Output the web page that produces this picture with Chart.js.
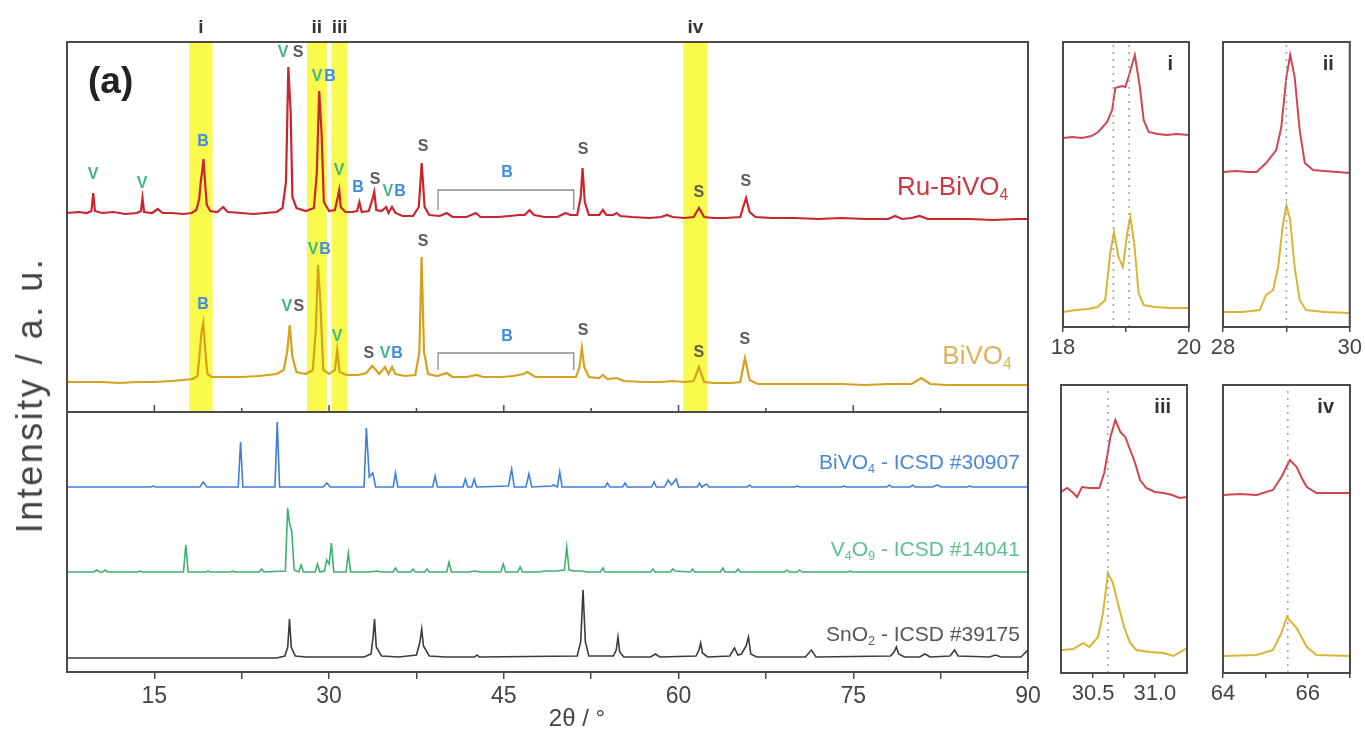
<!DOCTYPE html>
<html lang="en">
<head>
<meta charset="UTF-8" />
<title>XRD - Ru-BiVO4 / BiVO4</title>
<script src="https://cdn.jsdelivr.net/npm/chart.js"></script>
<style>
  body { margin: 0; background: #fff; font-family: 'Liberation Sans', Arial, sans-serif; }
  #fig { position: relative; width: 1365px; height: 736px; overflow: hidden; }
  .box { position: absolute; }
  .txt { position: absolute; color: #444; white-space: nowrap; }
  #ylab { left: 30px; top: 395px; font-size: 36px; letter-spacing: 2.5px; transform: translate(-50%, -50%) rotate(-90deg); }
  #xlab { left: 577px; top: 718px; font-size: 24px; transform: translate(-50%, -50%); }
  #tag { left: 88px; top: 60px; font-size: 37px; font-weight: bold; color: #222; }
</style>
</head>
<body>
<div id="fig">
  <div class="box" style="left:0;top:0"><canvas id="upper" width="1045" height="414"></canvas></div>
  <div class="box" style="left:0;top:410px"><canvas id="lower" width="1045" height="326"></canvas></div>
  <div class="box" style="left:1045px;top:0"><canvas id="insI" width="160" height="370"></canvas></div>
  <div class="box" style="left:1205px;top:0"><canvas id="insII" width="160" height="370"></canvas></div>
  <div class="box" style="left:1045px;top:370px"><canvas id="insIII" width="160" height="366"></canvas></div>
  <div class="box" style="left:1205px;top:370px"><canvas id="insIV" width="160" height="366"></canvas></div>
  <div class="txt" id="ylab">Intensity / a. u.</div>
  <div class="txt" id="xlab">2θ / °</div>
  <div class="txt" id="tag">(a)</div>
</div>

<script>
  // ---- main panel data: [2theta, intensity (a.u., offset traces)] ----
  const RU_BIVO4 = [[7.5,199],[8.5,200],[9.2,199],[9.6,201],[9.75,219],[9.9,201],[10.5,199],[11.5,200],[12.5,198],[13.5,199],[13.85,201],[13.98,214],[14.12,200],[14.8,199],[15.3,203],[15.7,199],[16.5,199],[17.5,198],[18.2,199],[18.6,202],[18.85,213],[19.0,232],[19.1,240],[19.22,253],[19.35,230],[19.5,207],[19.8,201],[20.4,200],[20.9,205],[21.3,200],[22.5,199],[23.5,198],[24.5,199],[25.5,200],[26.0,204],[26.3,230],[26.5,345],[26.7,300],[26.85,215],[27.2,204],[28.0,201],[28.7,204],[28.95,240],[29.15,321],[29.35,280],[29.55,210],[30.0,201],[30.5,202],[30.75,215],[30.87,222],[31.0,205],[31.4,200],[32.0,200],[32.4,201],[32.6,210],[32.8,200],[33.4,201],[33.75,214],[33.88,220],[34.05,202],[34.5,201],[34.9,205],[35.1,199],[35.4,205],[35.7,199],[36.3,196],[37.2,196],[37.7,205],[37.95,249],[38.2,205],[38.6,197],[39.5,196],[40.1,199],[40.6,195],[41.8,195],[42.6,199],[43.0,195],[44.5,195],[45.5,196],[46.3,197],[46.8,197],[47.2,202],[47.6,197],[48.5,195],[49.6,195],[50.3,199],[50.7,197],[51.3,197],[51.6,215],[51.76,244],[51.95,210],[52.3,197],[53.2,197],[53.5,202],[53.8,197],[54.4,197],[54.7,199],[55.0,196],[56.0,195],[57.5,194],[58.5,195],[59.0,197],[59.5,195],[60.5,194],[61.3,195],[61.75,204],[62.2,195],[63,194],[64,194],[65.3,195],[65.55,205],[65.8,214],[66.1,200],[66.6,195],[68,194],[70,194],[72,193],[74,194],[76,193],[78.0,193],[78.6,196],[79.2,193],[80.0,194],[80.7,196],[81.4,193],[83,193],[85,193],[87,192],[89,193],[90,193]];
  const BIVO4 = [[7.5,30],[9,30],[10.5,30],[12,29],[13.5,30],[15,30],[16.5,31],[17.5,32],[18.3,33],[18.7,36],[18.9,60],[19.05,80],[19.2,89],[19.35,65],[19.55,38],[19.9,35],[21,35],[22.5,35],[24,36],[25.5,38],[26.1,42],[26.4,60],[26.62,87],[26.85,55],[27.2,40],[28.0,38],[28.6,42],[28.85,80],[29.05,147],[29.25,110],[29.5,42],[30.0,38],[30.5,42],[30.7,62],[30.9,40],[31.5,37],[32.5,37],[33.2,39],[33.7,46],[33.95,43],[34.3,38],[34.8,45],[35.1,38],[35.4,45],[35.7,38],[36.5,36],[37.4,37],[37.75,60],[37.94,155],[38.15,60],[38.5,38],[39.3,36],[40.1,39],[40.6,35],[41.8,35],[42.7,37],[43.2,35],[44.8,35],[45.8,36],[46.7,38],[47.0,40],[47.3,38],[47.7,35],[48.8,35],[49.9,35],[50.4,35],[51.2,35],[51.5,45],[51.7,64],[51.9,45],[52.3,35],[53.2,34],[53.5,37],[53.9,33],[54.7,34],[55.3,31],[57,30],[58.5,30],[59.5,31],[60.5,30],[61.3,31],[61.75,45],[62.2,30],[63,29],[64.5,29],[65.3,30],[65.7,54],[66.1,32],[66.8,28],[68,28],[70,28],[72,28],[74,28],[76,27],[78,28],[80.0,28],[80.85,34],[81.6,28],[83,27],[85,27],[87,27],[89,27],[90,27]];

  const REF_BIVO4 = [[7.5,185],[14.7,185],[14.9,186],[15.1,185],[18.9,185],[19.2,190],[19.5,185],[22.2,185],[22.4,230],[22.6,185],[25.35,185],[25.55,250],[25.75,185],[29.5,185],[29.8,189],[30.1,185],[33.0,185],[33.2,244],[33.45,195],[33.75,199],[34.0,185],[35.5,185],[35.7,199],[35.9,185],[38.9,185],[39.1,196],[39.3,185],[41.5,185],[41.7,193],[41.9,185],[42.25,185],[42.46,193],[42.65,185],[45.4,186],[45.67,203],[45.9,185],[46.9,185],[47.15,198],[47.4,185],[49.1,186],[49.3,187],[49.6,185],[49.8,200],[50.0,185],[53.7,185],[53.9,189],[54.1,185],[55.2,185],[55.4,189],[55.6,185],[57.7,185],[57.9,190],[58.1,185],[58.8,185],[59.1,192],[59.4,187],[59.8,193],[60.0,185],[61.6,185],[61.8,189],[62.0,185],[62.4,188],[62.6,185],[65.9,185],[66.1,187],[66.3,185],[70,185],[70.2,186],[70.4,185],[74,185],[74.2,186],[74.4,185],[77.9,185],[78.1,187],[78.3,185],[79.9,185],[80.1,187],[80.3,185],[81.8,185],[82.2,187],[82.6,185],[84.8,185],[85.0,186],[85.2,185],[90,185]];
  const REF_V4O9 = [[7.5,100],[9.8,100],[10.05,102],[10.3,100],[10.55,100],[10.76,102],[11.0,100],[13.6,100],[13.8,101],[14.0,100],[17.5,100],[17.7,127],[17.9,100],[19.4,100],[19.6,101],[19.8,100],[21.5,100],[21.7,101],[21.9,100],[24.0,100],[24.2,103],[24.4,100],[26.25,101],[26.44,164],[26.6,149],[26.8,140],[27.0,102],[27.4,100],[27.6,107],[27.8,100],[28.8,100],[29.0,108],[29.2,100],[29.6,101],[29.8,112],[30.0,108],[30.2,129],[30.4,100],[31.45,100],[31.65,119],[31.85,100],[33.5,100],[34.1,101],[34.5,100],[35.5,100],[35.7,104],[35.9,100],[37.0,100],[37.2,103],[37.4,100],[38.2,100],[38.4,103],[38.6,100],[40.1,100],[40.3,110],[40.5,100],[42,100],[42.5,101],[43,100],[44.75,100],[44.95,108],[45.15,100],[46.2,100],[46.4,105],[46.6,100],[48.0,100],[48.5,101],[49.5,101],[50.2,102],[50.4,125],[50.6,102],[51.0,101],[51.6,101],[52.2,100],[53.3,100],[53.5,104],[53.7,100],[57.6,100],[57.8,103],[58.0,100],[59.3,100],[59.5,103],[59.7,101],[61.0,100],[61.2,103],[61.4,100],[63.6,100],[63.8,104],[64.0,100],[64.9,100],[65.1,103],[65.3,100],[69.1,100],[69.3,102],[69.5,100],[70.2,100],[70.4,102],[70.6,100],[74.5,100],[74.7,101],[74.9,100],[90,100]];
  const REF_SNO2 = [[7.5,14],[25.5,14],[26.2,16],[26.45,25],[26.6,53],[26.75,25],[27.1,16],[28,15],[33.0,15],[33.6,18],[33.78,35],[33.9,53],[34.05,25],[34.5,16],[36,15],[37.5,17],[37.8,30],[37.95,43],[38.1,26],[38.6,16],[40,15],[42.5,15],[42.7,17],[42.9,15],[51.3,16],[51.6,30],[51.8,82],[52.0,30],[52.3,16],[54.4,16],[54.65,22],[54.8,35],[54.95,20],[55.3,15],[57.6,15],[58.0,18],[58.4,15],[61.5,16],[61.75,22],[61.9,29],[62.05,19],[62.5,15],[64.4,16],[64.8,24],[65.1,17],[65.4,18],[65.8,26],[66.0,35],[66.2,18],[66.7,15],[70.9,15],[71.4,22],[71.8,15],[78.2,16],[78.5,20],[78.7,25],[78.9,18],[79.4,15],[80.7,15],[81.15,18],[81.6,15],[83.3,16],[83.7,22],[84.0,16],[86.7,15],[87.2,17],[87.7,15],[89.4,15],[89.9,21],[90,19]];

  // bracket over the BiVO4 region 39-51 deg
  const BRACKET_RU = [[39.35,202],[39.35,222],[51.0,222],[51.0,202]];
  const BRACKET_BI = [[39.35,42],[39.35,59],[51.0,59],[51.0,42]];

  // highlighted 2theta windows
  const BANDS = [[18.0,20.0,'i'],[28.1,29.8,'ii'],[30.2,31.6,'iii'],[60.4,62.5,'iv']];

  // phase letters: [text, 2theta, intensity, phase]
  const PEAK_TAGS = [
    ['V',9.73,237,'V'],['V',13.94,228,'V'],['B',19.17,270,'B'],
    ['V',26.04,359,'V'],['S',27.33,359,'S'],['V',28.96,335,'V'],['B',30.08,335,'B'],
    ['V',30.85,241,'V'],['B',32.48,224,'B'],['S',33.94,232,'S'],['V',35.05,220,'V'],['B',36.08,220,'B'],
    ['S',38.06,265,'S'],['B',45.27,239,'B'],['S',51.8,262,'S'],['S',61.75,219,'S'],['S',65.78,230,'S'],
    ['B',19.17,107,'B'],['V',26.38,105,'V'],['S',27.41,105,'S'],['V',28.62,162,'V'],['B',29.65,162,'B'],
    ['V',30.68,75,'V'],['S',33.42,58,'S'],['V',34.8,58,'V'],['B',35.83,58,'B'],
    ['S',38.06,170,'S'],['B',45.27,75,'B'],['S',51.8,81,'S'],['S',61.75,59,'S'],['S',65.7,72,'S']
  ];
  const TAG_COLORS = { V: '#42b488', S: '#5b5b5b', B: '#3d8de0' };

  const X_TICKS_MAIN = [15, 22.5, 30, 37.5, 45, 52.5, 60, 67.5, 75, 82.5, 90];
  const X_LABELS_MAIN = ['15', '', '30', '', '45', '', '60', '', '75', '', '90'];

  // ---- insets ----
  const RU_I = [[18.0,189],[18.15,190],[18.3,189],[18.45,191],[18.56,195],[18.7,205],[18.78,217],[18.83,239],[18.88,240],[18.95,241],[18.99,240],[19.04,250],[19.14,272],[19.22,240],[19.28,207],[19.36,195],[19.5,193],[19.65,192],[19.8,193],[20.0,192]];
  const BI_I = [[18.0,15],[18.2,17],[18.4,18],[18.55,20],[18.67,27],[18.75,74],[18.81,95],[18.88,70],[18.95,60],[19.02,94],[19.07,110],[19.13,84],[19.2,34],[19.28,22],[19.45,20],[19.7,19],[20.0,19]];
  const RU_II = [[28.0,155],[28.2,156],[28.4,155],[28.53,155],[28.68,164],[28.84,177],[28.92,200],[29.0,250],[29.06,272],[29.13,250],[29.21,197],[29.29,164],[29.42,157],[29.6,156],[29.8,155],[30.0,154]];
  const BI_II = [[28.0,15],[28.3,15],[28.58,17],[28.68,32],[28.79,37],[28.87,60],[28.94,100],[29.0,122],[29.06,107],[29.13,60],[29.21,27],[29.31,17],[29.6,15],[30.0,14]];
  const RU_III = [[30.24,181],[30.29,185],[30.34,180],[30.37,176],[30.41,186],[30.47,185],[30.55,185],[30.59,200],[30.64,236],[30.68,253],[30.72,241],[30.76,236],[30.8,223],[30.84,210],[30.88,193],[30.93,185],[31.0,181],[31.07,180],[31.14,178],[31.2,175],[31.26,176]];
  const BI_III = [[30.24,23],[30.34,24],[30.42,30],[30.47,26],[30.54,36],[30.58,60],[30.62,100],[30.66,90],[30.7,70],[30.75,46],[30.8,30],[30.85,23],[30.96,21],[31.07,20],[31.15,17],[31.26,25]];
  const RU_IV = [[64.0,178],[64.4,179],[64.79,178],[65.18,183],[65.38,196],[65.58,213],[65.74,206],[65.86,195],[65.98,186],[66.21,180],[66.6,180],[67.0,180]];
  const BI_IV = [[64.0,17],[64.79,18],[65.18,23],[65.38,40],[65.51,56],[65.74,45],[65.98,26],[66.21,18],[67.0,17]];

  const INSETS = [
    { id: 'insI',   tag: 'i',   xmin: 18,    xmax: 20,    ymax: 285, ru: RU_I,   bi: BI_I,   marks: [18.8, 19.05],
      ticks: [18, 19, 20], labels: ['18', '', '20'], pad: { left: 18, right: 16, top: 42 } },
    { id: 'insII',  tag: 'ii',  xmin: 28,    xmax: 30,    ymax: 285, ru: RU_II,  bi: BI_II,  marks: [29.0],
      ticks: [28, 29, 30], labels: ['28', '', '30'], pad: { left: 18, right: 15, top: 42 } },
    { id: 'insIII', tag: 'iii', xmin: 30.24, xmax: 31.26, ymax: 288, ru: RU_III, bi: BI_III, marks: [30.62],
      ticks: [30.5, 30.75, 31.0], labels: ['30.5', '', '31.0'], pad: { left: 16, right: 18, top: 15 } },
    { id: 'insIV',  tag: 'iv',  xmin: 64,    xmax: 67,    ymax: 288, ru: RU_IV,  bi: BI_IV,  marks: [65.53],
      ticks: [64, 65, 66, 67], labels: ['64', '', '66', ''], pad: { left: 18, right: 15, top: 15 } }
  ];

  const RED = '#c9252e';
  const GOLD = '#d6a21e';
  const FRAME = '#4a4a4a';
  const FONT = "'Liberation Sans', Arial, sans-serif";

  Chart.defaults.font.family = FONT;
  Chart.defaults.animation = false;

  const pts = arr => arr.map(p => ({ x: p[0], y: p[1] }));

  function line(data, color, width) {
    return { data: pts(data), borderColor: color, borderWidth: width || 1.8, pointRadius: 0, tension: 0, fill: false };
  }

  // text with subscripts: segments of [text, isSub]
  function drawRich(ctx, segs, xRight, yMid, size, color) {
    ctx.save();
    ctx.fillStyle = color;
    ctx.textBaseline = 'middle';
    ctx.textAlign = 'left';
    let w = 0;
    segs.forEach(s => { ctx.font = (s[1] ? size * 0.6 : size) + 'px ' + FONT; w += ctx.measureText(s[0]).width; });
    let x = xRight - w;
    segs.forEach(s => {
      const fs = s[1] ? size * 0.6 : size;
      ctx.font = fs + 'px ' + FONT;
      ctx.fillText(s[0], x, s[1] ? yMid + size * 0.3 : yMid);
      x += ctx.measureText(s[0]).width;
    });
    ctx.restore();
  }

  const baseOpts = (pad, xmin, xmax, ymax) => ({
    responsive: false,
    events: [],
    layout: { padding: pad },
    plugins: { legend: { display: false }, tooltip: { enabled: false } },
    scales: {
      x: { type: 'linear', min: xmin, max: xmax, display: false },
      y: { type: 'linear', min: 0, max: ymax, display: false }
    }
  });

  // ---- upper part: measured patterns ----
  const upperDecor = {
    id: 'upperDecor',
    beforeDatasetsDraw(chart) {
      const { ctx, chartArea: a, scales: { x } } = chart;
      ctx.save();
      ctx.fillStyle = '#fafa4c';
      BANDS.forEach(b => {
        const x0 = x.getPixelForValue(b[0]), x1 = x.getPixelForValue(b[1]);
        ctx.fillRect(x0, a.top, x1 - x0, a.bottom - a.top);
      });
      ctx.restore();
    },
    afterDatasetsDraw(chart) {
      const { ctx, chartArea: a, scales: { x, y } } = chart;
      ctx.save();
      ctx.strokeStyle = FRAME;
      ctx.lineWidth = 2;
      ctx.strokeRect(a.left, a.top, a.right - a.left, a.bottom - a.top);
      ctx.lineWidth = 1.5;
      X_TICKS_MAIN.forEach((v, i) => {
        const px = x.getPixelForValue(v);
        const len = X_LABELS_MAIN[i] ? 7 : 4;
        ctx.beginPath();
        ctx.moveTo(px, a.bottom);
        ctx.lineTo(px, a.bottom - len);
        ctx.stroke();
      });
      ctx.fillStyle = '#333';
      ctx.font = 'bold 19px ' + FONT;
      ctx.textAlign = 'center';
      ctx.textBaseline = 'middle';
      BANDS.forEach(b => ctx.fillText(b[2], x.getPixelForValue((b[0] + b[1]) / 2), a.top - 14));
      ctx.font = 'bold 16px ' + FONT;
      PEAK_TAGS.forEach(t => {
        ctx.fillStyle = TAG_COLORS[t[3]];
        ctx.fillText(t[0], x.getPixelForValue(t[1]), y.getPixelForValue(t[2]));
      });
      ctx.restore();
      drawRich(ctx, [['Ru-BiVO', 0], ['4', 1]], x.getPixelForValue(88.3), y.getPixelForValue(224), 26, '#c73a41');
      drawRich(ctx, [['BiVO', 0], ['4', 1]], x.getPixelForValue(88.6), y.getPixelForValue(55), 26, '#dbb35c');
    }
  };

  const upperOpts = baseOpts({ left: 67, right: 17, top: 42, bottom: 2 }, 7.5, 90, 370);
  new Chart(document.getElementById('upper'), {
    type: 'line',
    data: {
      datasets: [
        line(BRACKET_RU, '#8a8a8a', 1.3),
        line(BRACKET_BI, '#8a8a8a', 1.3),
        line(BIVO4, GOLD, 2.2),
        line(RU_BIVO4, RED, 2.2)
      ]
    },
    options: upperOpts,
    plugins: [upperDecor]
  });

  // ---- lower part: ICSD references ----
  const lowerDecor = {
    id: 'lowerDecor',
    afterDatasetsDraw(chart) {
      const { ctx, chartArea: a, scales: { x, y } } = chart;
      ctx.save();
      ctx.strokeStyle = FRAME;
      ctx.lineWidth = 2;
      ctx.beginPath();
      ctx.moveTo(a.left, a.top); ctx.lineTo(a.left, a.bottom);
      ctx.moveTo(a.right, a.top); ctx.lineTo(a.right, a.bottom);
      ctx.stroke();
      ctx.restore();
      const xr = x.getPixelForValue(89.3);
      drawRich(ctx, [['BiVO', 0], ['4', 1], [' - ICSD #30907', 0]], xr, y.getPixelForValue(209), 21, '#4a86d6');
      drawRich(ctx, [['V', 0], ['4', 1], ['O', 0], ['9', 1], [' - ICSD #14041', 0]], xr, y.getPixelForValue(122), 21, '#5cbf8e');
      drawRich(ctx, [['SnO', 0], ['2', 1], [' - ICSD #39175', 0]], xr, y.getPixelForValue(37), 21, '#575757');
    }
  };

  const lowerOpts = baseOpts({ left: 67, right: 17, top: 2, bottom: 0 }, 7.5, 90, 260);
  lowerOpts.scales.x = {
    type: 'linear', min: 7.5, max: 90, display: true,
    afterFit: s => { s.height = 64; },
    afterBuildTicks: s => { s.ticks = X_TICKS_MAIN.map(v => ({ value: v })); },
    grid: { drawOnChartArea: false, drawTicks: true, tickLength: 7, color: FRAME, lineWidth: 1.5 },
    border: { display: true, color: FRAME, width: 2 },
    ticks: {
      autoSkip: false, maxRotation: 0, padding: 4, color: '#444', font: { size: 23 },
      callback: (v, i) => X_LABELS_MAIN[i]
    }
  };
  new Chart(document.getElementById('lower'), {
    type: 'line',
    data: {
      datasets: [
        line(REF_SNO2, '#3c3c3c', 1.6),
        line(REF_V4O9, '#3fb06e', 1.6),
        line(REF_BIVO4, '#3f7fd6', 1.6)
      ]
    },
    options: lowerOpts,
    plugins: [lowerDecor]
  });

  // ---- zoomed insets ----
  INSETS.forEach(p => {
    const canvas = document.getElementById(p.id);
    const opts = baseOpts(Object.assign({ bottom: 0 }, p.pad), p.xmin, p.xmax, p.ymax);
    const axisH = canvas.height - p.pad.top - p.ymax;
    opts.scales.x = {
      type: 'linear', min: p.xmin, max: p.xmax, display: true,
      afterFit: s => { s.height = axisH; },
      afterBuildTicks: s => { s.ticks = p.ticks.map(v => ({ value: v })); },
      grid: { drawOnChartArea: false, drawTicks: true, tickLength: 5, color: FRAME, lineWidth: 1.5 },
      border: { display: true, color: FRAME, width: 2 },
      ticks: {
        autoSkip: false, maxRotation: 0, padding: 3, color: '#444', font: { size: 22 },
        callback: (v, i) => p.labels[i]
      }
    };
    const marks = p.marks.map(m => ({
      data: [{ x: m, y: 0 }, { x: m, y: p.ymax }], borderColor: '#9aa5bf', borderWidth: 1.6,
      borderDash: [2, 5], pointRadius: 0, fill: false
    }));
    const frame = {
      id: 'frame' + p.id,
      afterDatasetsDraw(chart) {
        const { ctx, chartArea: a } = chart;
        ctx.save();
        ctx.strokeStyle = FRAME;
        ctx.lineWidth = 2;
        ctx.strokeRect(a.left, a.top, a.right - a.left, a.bottom - a.top);
        ctx.fillStyle = '#333';
        ctx.font = 'bold 20px ' + FONT;
        ctx.textAlign = 'right';
        ctx.textBaseline = 'middle';
        ctx.fillText(p.tag, a.right - 16, a.top + 22);
        ctx.restore();
      }
    };
    new Chart(canvas, {
      type: 'line',
      data: { datasets: marks.concat([line(p.bi, '#d8b634', 2), line(p.ru, '#d0464e', 2)]) },
      options: opts,
      plugins: [frame]
    });
  });
</script>
</body>
</html>
